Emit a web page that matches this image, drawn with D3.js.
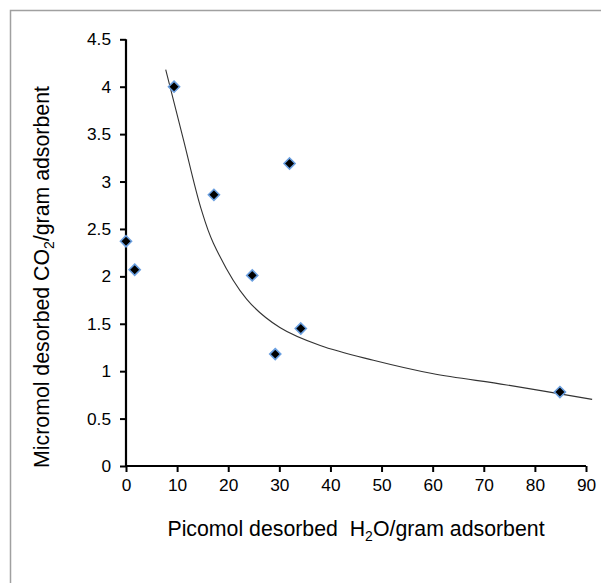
<!DOCTYPE html>
<html>
    <head>
        <meta charset="utf-8">
        <script src="https://d3js.org/d3.v7.min.js"></script>
        <style>
            body { margin: 0; background: #fff; }
            svg text { font-family: "Liberation Sans", Arial, sans-serif; fill: #000; white-space: pre; }
        </style>
    </head>

    <body>
        <svg id="chart" width="601" height="583"></svg>
        <script>
            // measured samples: desorbed water vs desorbed CO2
            const h2o = [0, 1.7, 9.4, 17.2, 24.7, 29.2, 32.0, 34.2, 84.9];
            const co2 = [2.37, 2.07, 4.0, 2.86, 2.01, 1.18, 3.19, 1.45, 0.78];

            // trendline as sampled along the plot
            const trendX = [7.77, 11.2, 14.65, 17.1, 23.6, 30.1, 38.0, 48.4, 59.9, 74.5, 91.2];
            const trendY = [4.18, 3.45, 2.72, 2.35, 1.76, 1.46, 1.27, 1.115, 0.975, 0.855, 0.703];

            const xTicks = [0, 10, 20, 30, 40, 50, 60, 70, 80, 90];
            const yTicks = [0, 0.5, 1, 1.5, 2, 2.5, 3, 3.5, 4, 4.5];

            let svg = d3.select("#chart");

            // frame round the chart area
            svg.append("rect")
                .attr("x", 10.5).attr("y", 10.5)
                .attr("width", 620).attr("height", 620)
                .attr("fill", "none")
                .attr("stroke", "#a0a0a0")
                .attr("stroke-width", 1.5);

            let plotLeft = 126, plotRight = 586, plotTop = 39.3, plotBottom = 466;

            let x = d3.scaleLinear().domain([0, 90]).range([plotLeft, plotRight]);
            let y = d3.scaleLinear().domain([0, 4.5]).range([plotBottom, plotTop]);

            let xAxis = d3.axisBottom(x).tickValues(xTicks).tickSize(6).tickSizeOuter(0).tickPadding(7);
            let yAxis = d3.axisLeft(y).tickValues(yTicks).tickSize(6).tickSizeOuter(0).tickPadding(9)
                .tickFormat(d => String(d));

            let gx = svg.append("g")
                .attr("transform", "translate(0," + plotBottom + ")")
                .call(xAxis);
            let gy = svg.append("g")
                .attr("transform", "translate(" + plotLeft + ",0)")
                .call(yAxis);

            for (let g of [gx, gy]) {
                g.attr("font-size", 17.3).attr("font-family", "Liberation Sans, Arial, sans-serif");
                g.select(".domain").attr("stroke", "#000").attr("stroke-width", 2.2);
                g.selectAll(".tick line").attr("stroke", "#000").attr("stroke-width", 2);
                g.selectAll(".tick text").attr("fill", "#111");
            }
            gx.select(".domain").attr("d", "M" + plotLeft + ",0H" + plotRight);
            gy.select(".domain").attr("d", "M0," + plotBottom + "V" + plotTop);

            // trendline
            let line = d3.line()
                .x(d => x(d[0]))
                .y(d => y(d[1]))
                .curve(d3.curveCatmullRom.alpha(0.5));
            svg.append("path")
                .datum(d3.zip(trendX, trendY))
                .attr("d", line)
                .attr("fill", "none")
                .attr("stroke", "#333")
                .attr("stroke-width", 1.1);

            // diamond markers
            let diamond = d3.symbol().type(d3.symbolDiamond2).size(78);
            svg.append("g").selectAll("path")
                .data(d3.zip(h2o, co2))
                .join("path")
                .attr("transform", d => "translate(" + x(d[0]) + "," + y(d[1]) + ")")
                .attr("d", diamond)
                .attr("fill", "#000")
                .attr("stroke", "#6a9fe0")
                .attr("stroke-width", 1.6);

            // axis titles
            let xt = svg.append("text")
                .attr("x", 356).attr("y", 536)
                .attr("text-anchor", "middle")
                .attr("font-size", 21.3);
            xt.append("tspan").text("Picomol desorbed  H");
            xt.append("tspan").attr("font-size", 14).attr("dy", 5).text("2");
            xt.append("tspan").attr("dy", -5).text("O/gram adsorbent");

            let yt = svg.append("text")
                .attr("transform", "translate(49," + 277 + ") rotate(-90)")
                .attr("text-anchor", "middle")
                .attr("font-size", 21.3);
            yt.append("tspan").text("Micromol desorbed CO");
            yt.append("tspan").attr("font-size", 14).attr("dy", 5).text("2");
            yt.append("tspan").attr("dy", -5).text("/gram adsorbent");
        </script>
    </body>
</html>
